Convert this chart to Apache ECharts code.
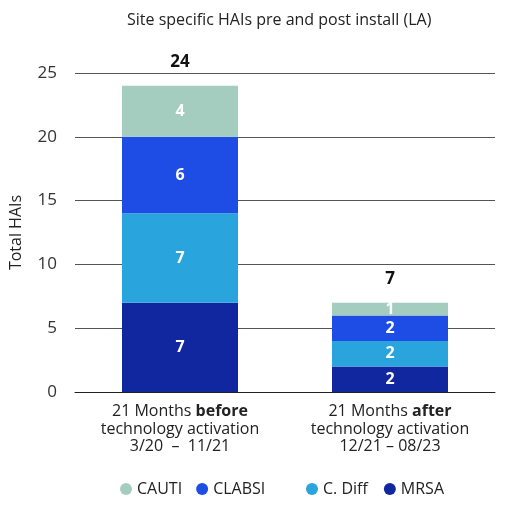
<!DOCTYPE html>
<html>
<head>
<meta charset="utf-8">
<script src="https://cdn.jsdelivr.net/npm/echarts@6/dist/echarts.min.js"></script>
<style>html,body{margin:0;padding:0;background:#fff}#c{width:510px;height:510px}</style>
</head>
<body>
<div id="c"></div>
<script>
var periodLead = ['21 Months ', '21 Months '];
var periodBold = ['before', 'after'];
var periodLine2 = ['technology activation', 'technology activation'];
var periodRange = ['3/20  \u2013  11/21', '12/21 \u2013 08/23'];
var categories = ['before', 'after'];

var MRSA = [7, 2];
var CDiff = [7, 2];
var CLABSI = [6, 2];
var CAUTI = [4, 1];
var totals = [24, 7];

var yTicks = [0, 5, 10, 15, 20, 25];

var FONT = 'Open Sans, Liberation Sans, Arial, sans-serif';
var chart = echarts.init(document.getElementById('c'));

function seg(name, data, color) {
  return {
    name: name, type: 'bar', stack: 't', data: data, barWidth: 116,
    itemStyle: { color: color },
    label: { show: true, position: 'inside', color: '#fff', fontWeight: 'bold', fontSize: 16, fontFamily: FONT }
  };
}
var legendText = { fontSize: 16, color: '#222', fontFamily: FONT };

chart.setOption({
  animation: false,
  title: {
    text: 'Site specific HAIs pre and post install (LA)',
    left: 122, top: 7,
    textStyle: { fontSize: 16, fontWeight: 'normal', color: '#222', fontFamily: FONT }
  },
  grid: { left: 74, right: 15, top: 73, bottom: 118 },
  legend: [
    {
      data: ['CAUTI', 'CLABSI'],
      bottom: 8, left: 115, icon: 'circle', itemWidth: 12, itemHeight: 12, itemGap: 14,
      textStyle: legendText
    },
    {
      data: ['C. Diff', 'MRSA'],
      bottom: 8, left: 301, icon: 'circle', itemWidth: 12, itemHeight: 12, itemGap: 16,
      textStyle: legendText
    }
  ],
  xAxis: {
    type: 'category', data: categories,
    axisLine: { show: true, lineStyle: { color: '#222' } },
    axisTick: { show: false },
    axisLabel: {
      margin: 11, interval: 0,
      formatter: function (v, i) {
        return '{a|' + periodLead[i] + '}{b|' + periodBold[i] + '}\n{a|' + periodLine2[i] + '}\n{a|' + periodRange[i] + '}';
      },
      rich: {
        a: { fontSize: 16, color: '#222', fontFamily: FONT, lineHeight: 17.5 },
        b: { fontSize: 16, color: '#222', fontFamily: FONT, fontWeight: 'bold', lineHeight: 17.5 }
      }
    }
  },
  yAxis: {
    type: 'value', min: yTicks[0], max: yTicks[yTicks.length - 1], interval: 5,
    name: 'Total HAIs', nameLocation: 'middle', nameGap: 51, nameRotate: 90,
    nameTextStyle: { fontSize: 16, color: '#222', fontFamily: FONT },
    axisLabel: { fontSize: 17, color: '#333', fontFamily: FONT, margin: 18 },
    splitLine: { lineStyle: { color: '#555', width: 1 } },
    axisLine: { show: false }, axisTick: { show: false }
  },
  series: [
    seg('MRSA', MRSA, '#11279f'),
    seg('C. Diff', CDiff, '#2aa4dc'),
    seg('CLABSI', CLABSI, '#1e4de6'),
    seg('CAUTI', CAUTI, '#a4cdc0'),
    {
      name: 'Total', type: 'bar', stack: 't', data: [0, 0], barWidth: 116,
      itemStyle: { color: 'transparent' },
      label: {
        show: true, position: 'top', distance: 15,
        formatter: function (p) { return totals[p.dataIndex]; },
        fontSize: 17, fontWeight: 'bold', color: '#111', fontFamily: FONT
      }
    }
  ]
});
</script>
</body>
</html>
